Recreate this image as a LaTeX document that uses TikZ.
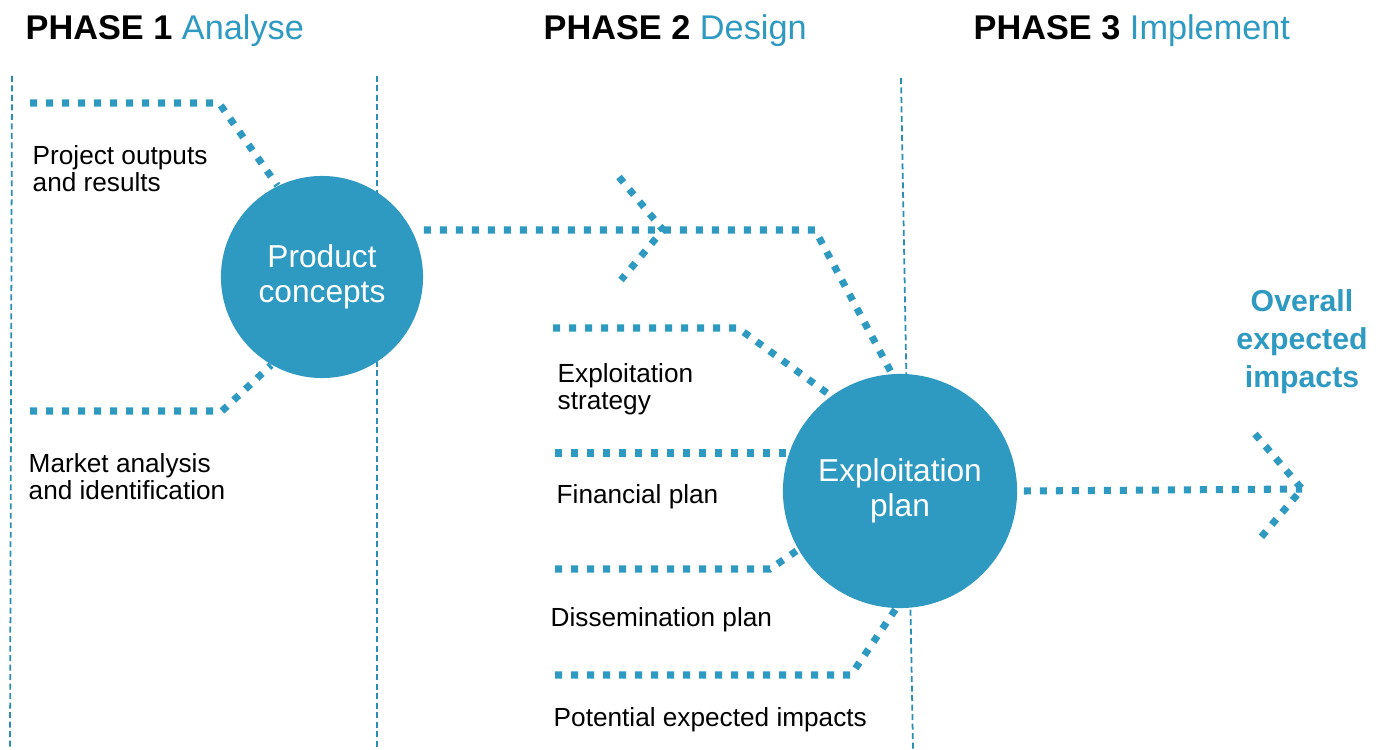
\documentclass[tikz,border=0pt]{standalone}
\usepackage{fontspec}
\setmainfont{Liberation Sans}
\usepackage{xcolor}
\usepackage{tikz}
\usetikzlibrary{calc}
\definecolor{bg}{HTML}{FFFFFF}
\definecolor{text}{HTML}{000000}
\definecolor{teal}{HTML}{2E9AC2}
\definecolor{rule}{HTML}{2A8DB3}
\tikzset{
  flow/.style={draw=teal, line width=2pt, line cap=butt, dash pattern=on 2pt off 2.55pt},
  guide/.style={draw=rule, line width=0.5pt, dash pattern=on 1.7pt off 1pt},
  hub/.style={circle, fill=teal, text=white, align=center, inner sep=0pt,
    font=\fontsize{9}{10.1}\selectfont},
  item/.style={font=\fontsize{7.45}{7.7}\selectfont, text=text, align=left, inner sep=0pt},
  phase/.style={font=\fontsize{9.75}{10}\selectfont, text=text, inner sep=0pt, anchor=base west},
  goal/.style={font=\fontsize{8.6}{10.8}\selectfont\bfseries, text=teal, align=center, inner sep=0pt}
}
\begin{document}
\begin{tikzpicture}[x=0.01cm, y=-0.01cm]
  \fill[bg] (0,0) rectangle (1388,749);

  % phase headings
  \node[phase] (ph1) at (25,40) {\textbf{PHASE 1} \textcolor{teal}{Analyse}};
  \node[phase] (ph2) at (543,40) {\textbf{PHASE 2} \textcolor{teal}{Design}};
  \node[phase] (ph3) at (973,40) {\textbf{PHASE 3} \textcolor{teal}{Implement}};

  % phase borders
  \draw[guide] (12,76) -- (10,749);
  \draw[guide] (377,76) -- (377,749);
  \draw[guide] (901,78) -- (913,749);

  % the two hubs
  \node[hub, minimum size=2.02cm] (pc) at (322,277) {Product\\concepts};
  \node[hub, minimum size=2.34cm] (ep) at (900,491) {Exploitation\\plan};

  % phase 1 inputs
  \coordinate (po) at (30,103);
  \coordinate (pob) at (219,103);
  \coordinate (ma) at (30,411);
  \coordinate (mab) at (222,411);
  \draw[flow] (po) -- (pob) -- (pc.116);
  \draw[flow] (ma) -- (mab) -- (pc.240);
  \node[item, anchor=north west] (lpo) at (32,145) {Project outputs\\and results};
  \node[item, anchor=north west] (lma) at (28,453) {Market analysis\\and identification};

  % product concepts into the plan
  \coordinate (pcb) at (815,230);
  \draw[flow] (pcb -| pc.east) -- (pcb) -- (ep.94);
  \coordinate (c1a) at (619,177);
  \coordinate (c1t) at (663,230);
  \coordinate (c1b) at (621,280);
  \draw[flow] (c1a) -- (c1t) -- (c1b);

  % phase 2 inputs
  \coordinate (es) at (553,328);
  \coordinate (esb) at (738,328);
  \coordinate (fp) at (555,453);
  \coordinate (dp) at (555,569);
  \coordinate (dpb) at (770,569);
  \coordinate (pe) at (555,675);
  \coordinate (peb) at (851,675);
  \draw[flow] (es) -- (esb) -- (ep.126);
  \draw[flow] (fp) -- (fp -| ep.162);
  \draw[flow] (dp) -- (dpb) -- (ep.210);
  \draw[flow] (pe) -- (peb) -- (ep.268);
  \node[item, anchor=north west] (les) at (557,363) {Exploitation\\strategy};
  \node[item, anchor=base west] (lfp) at (556,503) {Financial plan};
  \node[item, anchor=base west] (ldp) at (550,626) {Dissemination plan};
  \node[item, anchor=base west] (lpe) at (553,726) {Potential expected impacts};

  % phase 3 outcome
  \coordinate (c2a) at (1255,434);
  \coordinate (c2t) at (1302,489);
  \coordinate (c2b) at (1257,542);
  \draw[flow] (ep.east) ++(6,0) -- (c2t);
  \draw[flow] (c2a) -- (c2t) -- (c2b);
  \node[goal, anchor=north] (oei) at (1302,289) {Overall\\expected\\impacts};
\end{tikzpicture}
\end{document}
